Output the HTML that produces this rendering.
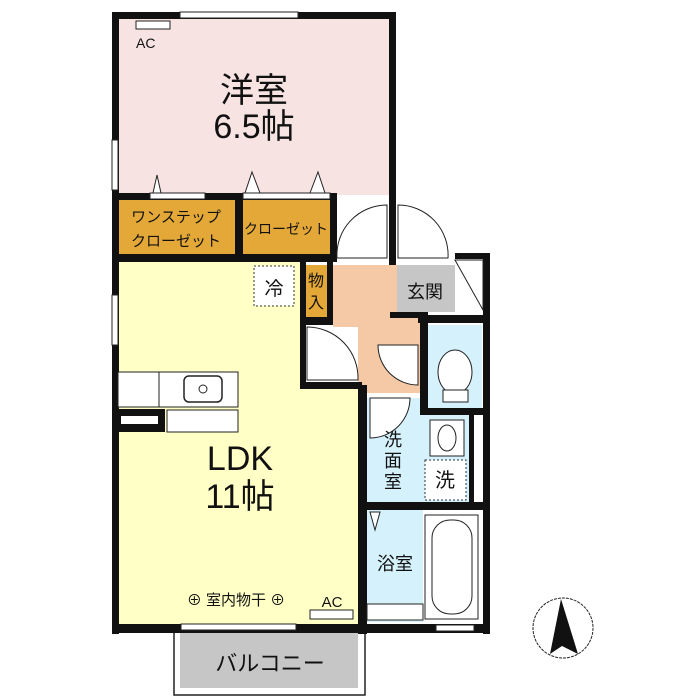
<!DOCTYPE html>
<html><head><meta charset="utf-8"><style>
html,body{margin:0;padding:0;background:#fff;}
svg{display:block}
text{font-family:"Liberation Sans","Noto Sans CJK JP",sans-serif;fill:#111}
</style></head><body>
<svg width="700" height="700" viewBox="0 0 700 700" xmlns="http://www.w3.org/2000/svg">
<rect x="118" y="18" width="272" height="177" fill="#f8e3e3"/>
<rect x="118" y="200" width="117" height="54" fill="#e4a838"/>
<rect x="243" y="200" width="87" height="54" fill="#e4a838"/>
<rect x="118" y="262" width="182" height="362" fill="#ffffc6"/>
<rect x="300" y="388" width="62" height="236" fill="#ffffc6"/>
<rect x="305" y="265" width="22" height="52" fill="#e4a838"/>
<rect x="333" y="265" width="87" height="62" fill="#f6c9a6"/>
<rect x="358" y="327" width="62" height="66" fill="#f6c9a6"/>
<rect x="307" y="327" width="51" height="56" fill="#fff"/>
<rect x="397" y="265" width="58" height="47" fill="#c6c6c6"/>
<rect x="428" y="325" width="54" height="83" fill="#d5f1fb"/>
<rect x="367" y="398" width="102" height="104" fill="#d5f1fb"/>
<rect x="367" y="510" width="56" height="112" fill="#d5f1fb"/>
<rect x="180" y="633" width="178" height="55" fill="#c6c6c6"/>
<rect x="174" y="632" width="191" height="63" fill="none" stroke="#222" stroke-width="1.5"/>
<g fill="#111">
<rect x="112" y="12" width="284" height="7"/>
<rect x="112" y="12" width="7" height="622"/>
<rect x="389" y="12" width="7" height="253"/>
<rect x="112" y="193" width="225" height="7"/>
<rect x="112" y="254" width="225" height="8"/>
<rect x="235" y="193" width="8" height="69"/>
<rect x="330" y="193" width="7" height="69"/>
<rect x="300" y="258" width="6" height="130"/>
<rect x="327" y="262" width="6" height="57"/>
<rect x="300" y="317" width="33" height="8"/>
<rect x="300" y="382" width="62" height="7"/>
<rect x="358" y="385" width="9" height="249"/>
<rect x="390" y="312" width="38" height="6"/>
<rect x="418" y="315" width="72" height="8"/>
<rect x="420" y="312" width="8" height="103"/>
<rect x="455" y="253" width="35" height="6"/>
<rect x="483" y="253" width="7" height="381"/>
<rect x="420" y="408" width="70" height="7"/>
<rect x="469" y="415" width="5" height="92"/>
<rect x="362" y="502" width="128" height="8"/>
<rect x="112" y="624" width="378" height="9"/>
</g>
<rect x="180" y="12" width="118" height="6" fill="#fff" stroke="#222" stroke-width="1"/>
<rect x="112" y="140" width="6" height="50" fill="#fff" stroke="#222" stroke-width="1"/>
<rect x="112" y="295" width="6" height="50" fill="#fff" stroke="#222" stroke-width="1"/>
<rect x="181" y="624" width="115" height="6" fill="#fff" stroke="#222" stroke-width="1"/>
<rect x="436" y="625" width="38" height="6" fill="#fff" stroke="#222" stroke-width="1"/>
<rect x="136" y="21" width="34" height="8" fill="#fff" stroke="#222"/>
<rect x="310" y="610" width="43" height="9" fill="#fff" stroke="#222"/>
<g fill="#fff" stroke="#222" stroke-width="1">
<rect x="150" y="193" width="55" height="6"/>
<rect x="243" y="193" width="87" height="6"/>
<path d="M153 193 L157 175 L161 193Z"/>
<path d="M245 193 L252 172 L260 193Z"/>
<path d="M310 193 L318 172 L325 193Z"/>
</g>
<g fill="#fff" stroke="#222" stroke-width="1">
<path d="M337 258 L387 258 L387 205 A50 50 0 0 0 337 258Z"/>
<path d="M398 258 L448 258 A50 50 0 0 0 398 205Z"/>
<path d="M307 327 L307 380 L358 380 A51 51 0 0 0 307 327Z"/>
<path d="M418 345 L378 345 A40 40 0 0 0 418 385Z"/>
<path d="M370 398 L370 438 A40 40 0 0 0 410 398Z"/>
<path d="M455 260 L483 310 L483 260Z" fill="none"/>
<rect x="430" y="420" width="34" height="36"/>
<rect x="425" y="515" width="53" height="104"/>
<rect x="432" y="520" width="40" height="94" rx="18"/>
<rect x="367" y="604" width="56" height="16"/>
<path d="M370 512 L375 530 L380 512Z"/>
</g>
<ellipse cx="455" cy="372" rx="17" ry="22" fill="#fff" stroke="#222"/>
<rect x="443" y="390" width="25" height="12" fill="#fff" stroke="#222"/>
<ellipse cx="447" cy="438" rx="9" ry="13" fill="#fff" stroke="#222"/>
<rect x="254" y="266" width="40" height="40" fill="#fff" stroke="#333" stroke-dasharray="2,2"/>
<rect x="425" y="460" width="41" height="40" fill="#fff" stroke="#333" stroke-dasharray="2,2"/>
<rect x="118" y="372" width="120" height="35" fill="#fff" stroke="#222"/>
<line x1="159" y1="372" x2="159" y2="407" stroke="#222"/>
<rect x="184" y="376" width="38" height="26" rx="5" fill="#fff" stroke="#222" stroke-width="1.5"/>
<circle cx="203" cy="389" r="4" fill="none" stroke="#222"/>
<rect x="118" y="409" width="47" height="23" fill="#111"/>
<rect x="121" y="416" width="37" height="8" fill="#fff"/>
<rect x="167" y="410" width="71" height="22" fill="#fff" stroke="#222"/>
<text x="136" y="48" font-size="14">AC</text>
<text x="254" y="102" font-size="34" text-anchor="middle">洋室</text>
<text x="254" y="138" font-size="34" text-anchor="middle">6.5帖</text>
<text x="176" y="222" font-size="15" text-anchor="middle">ワンステップ</text>
<text x="176" y="246" font-size="15" text-anchor="middle">クローゼット</text>
<text x="286" y="234" font-size="14" text-anchor="middle">クローゼット</text>
<text x="274" y="295" font-size="19" text-anchor="middle">冷</text>
<text x="316" y="286" font-size="16" text-anchor="middle">物</text>
<text x="316" y="308" font-size="16" text-anchor="middle">入</text>
<text x="425" y="298" font-size="18" text-anchor="middle">玄関</text>
<text x="240" y="470" font-size="34" text-anchor="middle">LDK</text>
<text x="240" y="508" font-size="34" text-anchor="middle">11帖</text>
<text x="393" y="446" font-size="18" text-anchor="middle">洗</text>
<text x="393" y="467" font-size="18" text-anchor="middle">面</text>
<text x="393" y="488" font-size="18" text-anchor="middle">室</text>
<text x="445" y="487" font-size="20" text-anchor="middle">洗</text>
<text x="395" y="570" font-size="18" text-anchor="middle">浴室</text>
<text x="236" y="605" font-size="15" text-anchor="middle">⊕ 室内物干 ⊕</text>
<text x="332" y="607" font-size="15" text-anchor="middle">AC</text>
<text x="270" y="671" font-size="22" text-anchor="middle">バルコニー</text>
<circle cx="563" cy="628" r="30" fill="#fff" stroke="#222" stroke-dasharray="3,1"/>
<path d="M561 599 L550 654 L562 646 L578 654Z" fill="#111"/>
</svg>
</body></html>
